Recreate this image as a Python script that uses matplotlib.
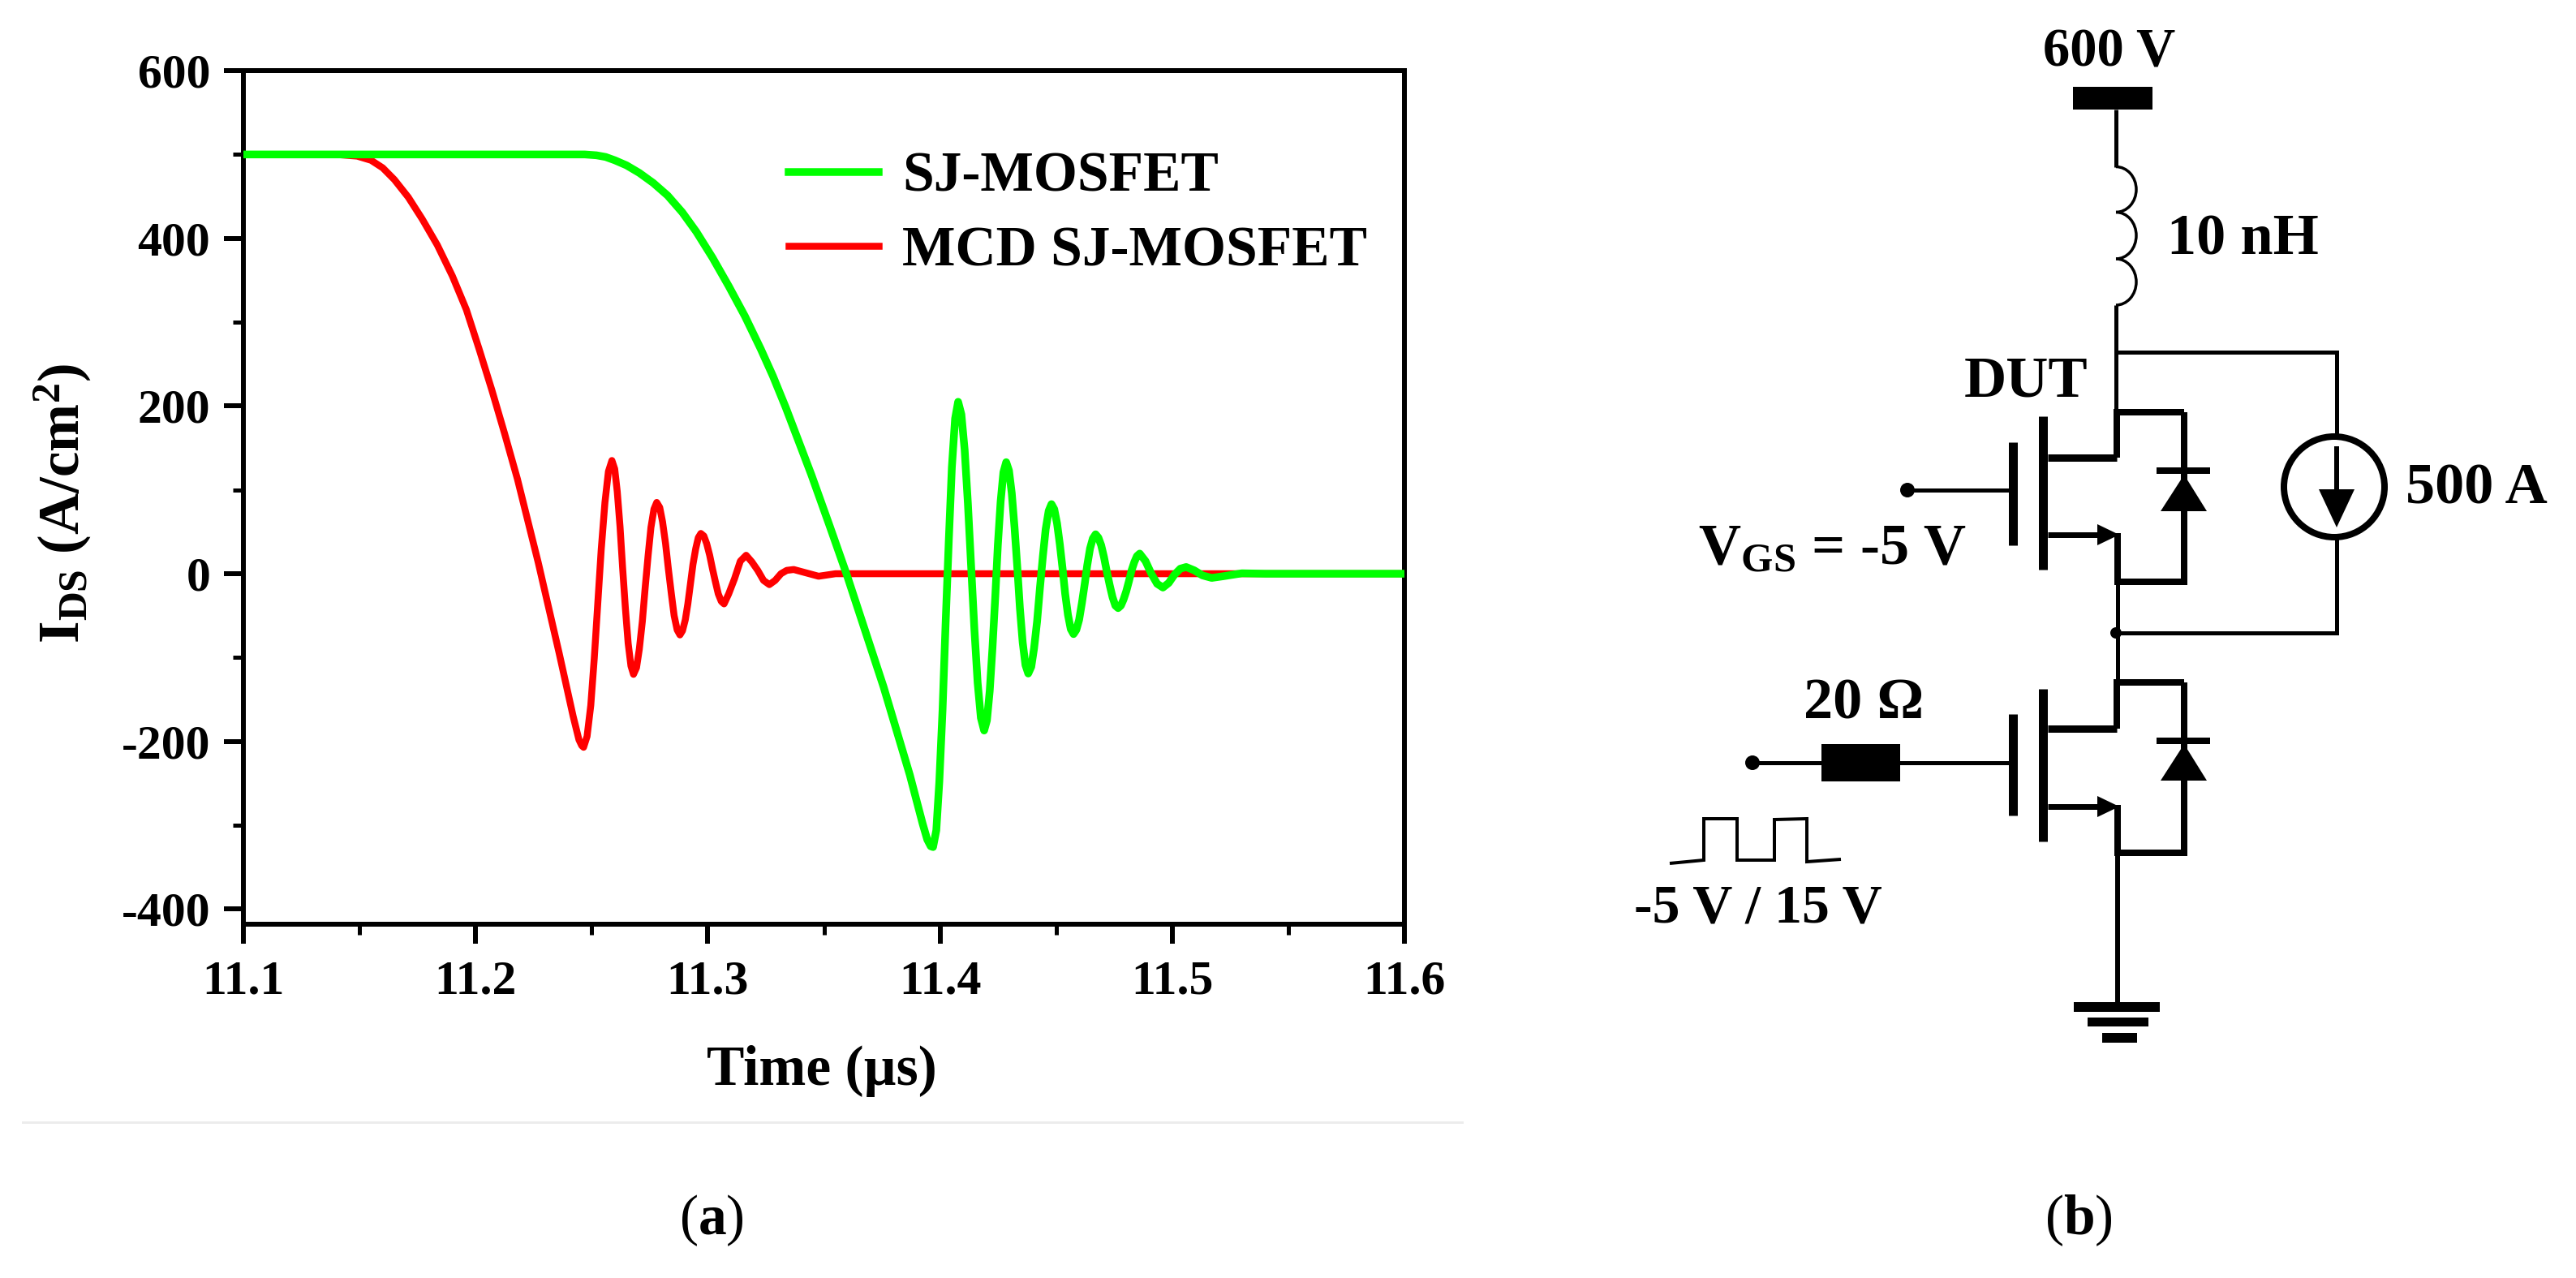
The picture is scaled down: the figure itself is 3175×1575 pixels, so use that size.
import matplotlib
matplotlib.use("Agg")
import matplotlib.pyplot as plt
from matplotlib.patches import Polygon, Rectangle, Circle, Arc
from matplotlib.ticker import MultipleLocator, FormatStrFormatter

plt.rcParams['font.family'] = ['Liberation Serif', 'DejaVu Serif']
plt.rcParams['axes.unicode_minus'] = False
plt.rcParams['mathtext.fontset'] = 'custom'
plt.rcParams['mathtext.rm'] = 'Liberation Serif'
plt.rcParams['mathtext.bf'] = 'Liberation Serif:bold'
plt.rcParams['mathtext.it'] = 'Liberation Serif:italic'

# ---- data ----
sj_t = [11.10, 11.24, 11.247, 11.252, 11.256, 11.260, 11.265, 11.2705, 11.2765, 11.2827, 11.289, 11.295,
        11.302, 11.309, 11.316, 11.3228, 11.328, 11.3336, 11.3446, 11.3526, 11.3597, 11.3757, 11.387,
        11.3925, 11.3945, 11.396, 11.397,
        11.3984, 11.3997, 11.4011, 11.4024, 11.4038, 11.4051, 11.4065, 11.4078,
        11.4092, 11.4106, 11.412, 11.4134, 11.4148, 11.4162, 11.4176, 11.419,
        11.4202, 11.4214, 11.4226, 11.4238, 11.4249, 11.4261, 11.4273, 11.4285,
        11.4297, 11.4309, 11.4321, 11.4333, 11.4344, 11.4356, 11.4368, 11.438,
        11.4393, 11.4405, 11.4418, 11.443, 11.4443, 11.4455, 11.4468, 11.448,
        11.4492, 11.4504, 11.4516, 11.4528, 11.4539, 11.4551, 11.4563, 11.4575,
        11.4587, 11.4599, 11.4611, 11.4623, 11.4634, 11.4646, 11.4658, 11.467,
        11.4682, 11.4694, 11.4706, 11.4718, 11.4731, 11.4743, 11.4755, 11.4767,
        11.4779, 11.479, 11.4802, 11.4814, 11.4825, 11.4837, 11.4848, 11.486,
        11.4885, 11.491, 11.4935, 11.496, 11.4985, 11.501, 11.5035, 11.506,
        11.5095, 11.513, 11.517, 11.522, 11.53, 11.54, 11.60]
sj_i = [500, 500, 500, 499, 497, 493, 487, 478, 466, 451, 431, 408,
        377, 343, 307, 268, 236, 198, 118, 56, 0, -135, -240,
        -298, -317, -325, -326,
        -306, -248, -162, -60, 41, 127, 185, 205,
        190, 148, 84, 9, -66, -130, -172, -187,
        -175, -140, -88, -27, 34, 86, 121, 133,
        123, 96, 55, 7, -41, -82, -109, -119,
        -111, -89, -57, -18, 21, 53, 75, 83,
        77, 60, 35, 5.5, -24, -49, -66, -72,
        -67, -55, -35, -12.5, 10, 30, 42, 47,
        43, 34, 20, 3, -14, -28, -38, -41,
        -38, -31, -21, -8.5, 4, 14, 21, 24,
        15, 0, -12, -16.5, -11, -1, 6, 8,
        4, -2, -5, -3, 0.5, 0, 0]
mcd_t = [11.10, 11.14, 11.149, 11.155, 11.160, 11.165, 11.171, 11.177, 11.1835, 11.19, 11.196, 11.2015,
         11.207, 11.2125, 11.218, 11.227, 11.236, 11.242, 11.2445, 11.2457, 11.2465,
         11.2480, 11.2496, 11.2511, 11.2526, 11.2541, 11.2557, 11.2572, 11.2587,
         11.2599, 11.2610, 11.2622, 11.2633, 11.2645, 11.2657, 11.2669, 11.268,
         11.2693, 11.2705, 11.2718, 11.273, 11.2743, 11.2755, 11.2768, 11.278,
         11.2793, 11.2805, 11.2818, 11.283, 11.2843, 11.2855, 11.2868, 11.288,
         11.2891, 11.2903, 11.2914, 11.2925, 11.2936, 11.2948, 11.2959, 11.297,
         11.2983, 11.2995, 11.3008, 11.302, 11.3033, 11.3045, 11.3058, 11.307,
         11.309, 11.3115, 11.314, 11.3165, 11.319, 11.3215, 11.324, 11.3265,
         11.329, 11.3315, 11.334, 11.337, 11.341, 11.3477, 11.355, 11.60]
mcd_i = [500, 500, 498, 493, 484, 470, 449, 423, 392, 355, 315, 268,
         219, 167, 113, 13, -95, -170, -198, -205, -207,
         -194, -157, -101, -36, 29, 85, 122, 135,
         125, 98, 56, 7.5, -41, -83, -110, -120,
         -112, -90, -57, -17.5, 22, 55, 77, 85,
         79, 62, 36, 6, -24, -50, -67, -73,
         -68, -55, -36, -12.5, 11, 30, 43, 48,
         45, 36, 22, 6, -10, -24, -33, -36,
         -24, -6, 15, 22, 14, 4, -8, -13,
         -8, 0, 4, 5, 2, -3, 0, 0]
series_names = ['SJ-MOSFET', 'MCD SJ-MOSFET']
x_ticks = [11.1, 11.2, 11.3, 11.4, 11.5, 11.6]
y_ticks = [-400, -200, 0, 200, 400, 600]

W, H = 3175, 1575
PX = 0.72
fig = plt.figure(figsize=(W / 100, H / 100), dpi=100, facecolor='white')
L, R, T, B = 300, 1731, 87, 1139
ax = fig.add_axes([L / W, 1 - B / H, (R - L) / W, (B - T) / H])
ax.plot(mcd_t, mcd_i, color='#ff0000', lw=8.5 * PX, solid_joinstyle='round', zorder=3, label=series_names[1])
ax.plot(sj_t, sj_i, color='#00ff00', lw=9.5 * PX, solid_joinstyle='round', zorder=4, label=series_names[0])
ax.set_xlim(11.1, 11.6)
ax.set_ylim(-418, 600)
ax.set_xticks(x_ticks)
ax.set_yticks(y_ticks)
ax.xaxis.set_minor_locator(MultipleLocator(0.05))
ax.yaxis.set_minor_locator(MultipleLocator(100))
ax.xaxis.set_major_formatter(FormatStrFormatter('%.1f'))
for s in ax.spines.values():
    s.set_linewidth(6 * PX)
ax.tick_params(which='major', length=24 * PX, width=6 * PX, labelsize=43, pad=12)
ax.tick_params(axis='x', which='major', pad=15)
ax.tick_params(which='minor', length=13 * PX, width=5 * PX)
for lab in ax.get_xticklabels() + ax.get_yticklabels():
    lab.set_fontweight('bold')
ax.set_xlabel('Time (µs)', fontsize=50, fontweight='bold')
ax.xaxis.set_label_coords((1013 - L) / (R - L), -(1320 - B) / (B - T))
ax.xaxis.label.set_va('center')
ax.set_ylabel(r'$\mathbf{I_{DS}}$ (A/cm$\mathbf{^2}$)', fontsize=51, fontweight='bold')
ax.yaxis.set_label_coords(-(L - 77) / (R - L), (B - 620) / (B - T))
ax.yaxis.label.set_va('center')

h, l = ax.get_legend_handles_labels()
leg = ax.legend(h[::-1], l[::-1], loc='upper left',
                bbox_to_anchor=((972 - L) / (R - L), 1 - (187 - T) / (B - T)),
                frameon=False, handlelength=1.6, handletextpad=0.42,
                labelspacing=0.39, borderpad=0, borderaxespad=0, prop={'weight': 'bold', 'size': 50})

# ---- overlay in image pixels: separator, captions, circuit schematic ----
ov = fig.add_axes([0, 0, 1, 1], facecolor='none', zorder=5)
ov.set_xlim(0, W)
ov.set_ylim(H, 0)
ov.axis('off')

ov.plot([28, 1802], [1383, 1383], color='#ececec', lw=3 * PX)
ov.text(877, 1504, r'($\mathbf{a}$)', fontsize=50, ha='center', va='center')
ov.text(2562, 1504, r'($\mathbf{b}$)', fontsize=50, ha='center', va='center')


def wire(xs, ys, w=5):
    ov.plot(xs, ys, color='black', lw=w * PX, solid_capstyle='butt', solid_joinstyle='miter')


def block(x0, y0, x1, y1):
    ov.add_patch(Rectangle((x0, y0), x1 - x0, y1 - y0, color='black', lw=0))


def tri(pts):
    ov.add_patch(Polygon(pts, closed=True, color='black', lw=0))


def label(x, y, s, size=52, ha='center'):
    ov.text(x, y, s, fontsize=size, fontweight='bold', ha=ha, va='center')


def mosfet(y_top, y_chan_d, y_bot, y_src, y_gate, y_ch0, y_ch1, y_g0, y_g1, y_dbar, y_dtip, y_dbase):
    wire([2609, 2609, 2692], [y_chan_d, y_top, y_top], 8)
    wire([2692, 2692, 2610], [y_top, y_bot, y_bot], 8)
    wire([2524, 2609], [y_chan_d, y_chan_d], 9)
    wire([2518, 2518], [y_ch0, y_ch1], 11)
    wire([2481, 2481], [y_g0, y_g1], 11)
    wire([2524, 2590], [y_src, y_src], 7)
    tri([(2612, y_src), (2585, y_src - 13), (2585, y_src + 13)])
    wire([2610, 2610], [y_src - 2, y_bot + 4], 8)
    wire([2658, 2724], [y_dbar, y_dbar], 8)
    tri([(2692, y_dtip), (2663, y_dbase), (2720, y_dbase)])


# supply, inductor, upper wires
block(2555, 107, 2653, 135)
wire([2608, 2608], [135, 206], 5)
for y0, y1 in [(205.5, 261.5), (261.5, 319), (319, 376)]:
    ov.add_patch(Arc((2608, (y0 + y1) / 2), 50, y1 - y0, theta1=-90, theta2=90, color='black', lw=3.5 * PX))
wire([2608, 2608], [376, 508], 5)
wire([2608, 2880, 2880], [434, 434, 539], 5)
ov.add_patch(Circle((2877, 600), 62, fill=False, ec='black', lw=8 * PX))
wire([2880, 2880], [550, 605], 6)
tri([(2880, 650), (2858, 603), (2902, 603)])
wire([2880, 2880, 2608], [662, 780, 780], 5)
ov.add_patch(Circle((2608, 780), 7, color='black', lw=0))
wire([2610, 2610], [717, 841], 5)

# high-side device (DUT)
mosfet(508, 564, 717, 659, 604, 513, 702, 545, 672, 580, 585, 630)
wire([2351, 2476], [604, 604], 5)
ov.add_patch(Circle((2351, 604), 9, color='black', lw=0))

# low-side device
mosfet(841, 898, 1051, 994, 940, 849, 1037, 880, 1005, 913, 917, 962)
wire([2160, 2476], [940, 940], 5)
ov.add_patch(Circle((2160, 940), 9, color='black', lw=0))
block(2245, 917, 2342, 963)
wire([2610, 2610], [1051, 1240], 6)
block(2556, 1235, 2662, 1247)
block(2573, 1254, 2648, 1265)
block(2591, 1273, 2634, 1285)
wire([2058, 2100, 2100, 2141, 2141, 2187, 2187, 2227, 2227, 2269],
     [1064, 1060, 1009, 1009, 1060, 1060, 1010, 1009, 1062, 1059], 4)

label(2600, 65, '600 V', size=48)
label(2764, 296, '10 nH')
label(2497, 471, 'DUT')
label(3052, 603, '500 A')
label(2297, 868, '20 Ω')
label(2167, 1120, '-5 V / 15 V', size=49)
label(2258, 678, r'$\mathbf{V_{GS}}$ = -5 V')

fig.savefig('out.png', dpi=100, facecolor='white')
